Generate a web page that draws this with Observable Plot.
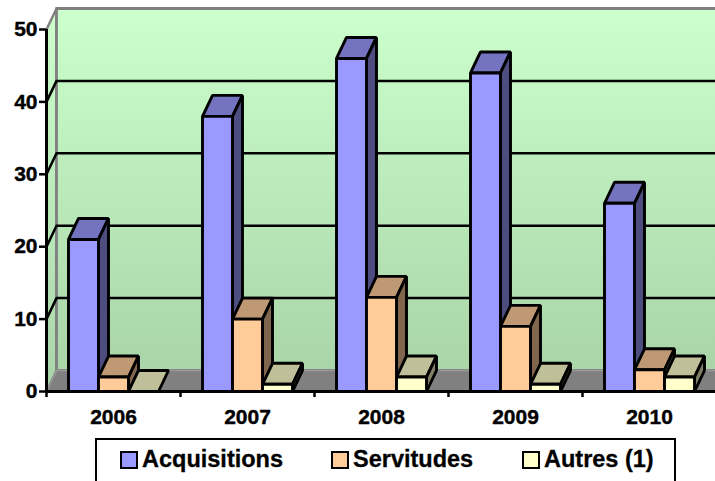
<!DOCTYPE html>
<html><head><meta charset="utf-8">
<script src="https://cdn.jsdelivr.net/npm/d3@7"></script>
<script src="https://cdn.jsdelivr.net/npm/@observablehq/plot@0.6"></script>
<style>
html,body{margin:0;padding:0;background:#fff;overflow:hidden;width:715px;height:481px}
#chart svg{display:block;background:#fff}
#legend{position:absolute;left:95px;top:438px;width:577px;height:60px;border:2.5px solid #000;box-sizing:content-box;font:bold 23.5px "Liberation Sans",Arial,sans-serif;color:#000;background:#fff;-webkit-text-stroke:0.3px #000}
#legend .sw{position:absolute;top:10.5px;width:14px;height:14px;border:2.5px solid #000;-webkit-text-stroke:0}
#legend .lb{position:absolute;top:6px;line-height:26px;white-space:nowrap}
</style></head>
<body><div id="chart"></div><div id="legend"></div>
<script>
const years = ["2006","2007","2008","2009","2010"];
const seriesNames = ["Acquisitions","Servitudes","Autres (1)"];
const acquisitions = [21,38,46,44,26];
const servitudes = [2,10,13,9,3];
const autres = [0,1,2,1,2];
const yTicks = [0,10,20,30,40,50];
const frontColors = ["#9999ff","#ffcc99","#ffffcc"];
const topColors = ["#7373bf","#bf9973","#bfbf99"];
const sideColors = ["#4d4d80","#80664d","#808066"];

const values = [acquisitions, servitudes, autres];
// Depth of the 3D box, in data units
const depthX = 10/134, depthY = 21/7.24;
const barStart = 22/134, barWidth = 30/134;

const faces = [];
function face(id, color, pts){ pts.forEach(([x,y]) => faces.push({id,color,x,y})); }
years.forEach((yr,i) => {
  values.forEach((vals,s) => {
    const v = vals[i], x0 = i + barStart + s*barWidth, x1 = x0 + barWidth;
    face(`t${i}${s}`, topColors[s], [[x0,v],[x1,v],[x1+depthX,v+depthY],[x0+depthX,v+depthY]]);
    if (v > 0) {
      face(`s${i}${s}`, sideColors[s], [[x1,0],[x1+depthX,depthY],[x1+depthX,v+depthY],[x1,v]]);
      face(`f${i}${s}`, frontColors[s], [[x0,0],[x1,0],[x1,v],[x0,v]]);
    }
  });
});

const poly = (pts, opts) => Plot.line(pts, {x:d=>d[0], y:d=>d[1], curve:"linear-closed", ...opts});
const gridLines = yTicks.slice(1,-1).map(t => [[0,t],[depthX,t+depthY],[5+depthX,t+depthY]]);
const textStyle = {fontSize:21, fontWeight:"bold", fontFamily:"Liberation Sans", fill:"#000"};

const plot = Plot.plot({
  width:715, height:437,
  marginLeft:46, marginRight:0, marginTop:0, marginBottom:0,
  x:{type:"linear", domain:[0,5], range:[46,716], axis:null},
  y:{type:"linear", domain:[0,50], range:[391,29], axis:null},
  marks:[
    () => {
      const defs = d3.create("svg:defs");
      const g = defs.append("linearGradient").attr("id","wall").attr("x1",0).attr("y1",0).attr("x2",0).attr("y2",1);
      g.append("stop").attr("offset","0%").attr("stop-color","#ccffcc");
      g.append("stop").attr("offset","100%").attr("stop-color","#a9d5a9");
      return defs.node();
    },
    poly([[0,0],[depthX,depthY],[depthX,50+depthY],[0,50]], {fill:"url(#wall)", stroke:"#808080", strokeWidth:2.4}),
    poly([[depthX,depthY],[5+depthX,depthY],[5+depthX,50+depthY],[depthX,50+depthY]], {fill:"url(#wall)", stroke:"#808080", strokeWidth:2.8}),
    poly([[0,0],[5,0],[5+depthX,depthY],[depthX,depthY]], {fill:"#808080", stroke:"#999999", strokeWidth:1.5}),
    ...gridLines.map(l => Plot.line(l, {x:d=>d[0], y:d=>d[1], stroke:"#000", strokeWidth:2.5})),
    Plot.line(faces, {x:"x", y:"y", z:"id", fill:"color", stroke:"#000", strokeWidth:2.9, strokeLinejoin:"miter", curve:"linear-closed"}),
    Plot.ruleX([0], {y1:0, y2:50, stroke:"#000", strokeWidth:3}),
    Plot.ruleY([0], {x1:0, x2:5, stroke:"#000", strokeWidth:3}),
    Plot.axisY({ticks:yTicks, tickSize:7, tickPadding:2, stroke:"#000", strokeWidth:2.5, ...textStyle, label:null, tickFormat:d=>String(d)}),
    Plot.axisX({anchor:"bottom", ticks:d3.range(0,6), tickSize:6, tickFormat:()=>"", stroke:"#000", strokeWidth:2.5, label:null, y:0}),
    Plot.text(years, {x:(d,i)=>i+0.5, y:()=>0, text:d=>d, dy:26, ...textStyle})
  ]
});
document.getElementById("chart").append(plot);
plot.querySelectorAll("text").forEach(t => { t.style.stroke = "#000"; t.style.strokeWidth = "0.4px"; });

const legend = d3.select("#legend");
const swLeft = [22.5,233.5,424.5], lbLeft = [45,256,447];
seriesNames.forEach((n,i) => {
  legend.append("div").attr("class","sw").style("left",swLeft[i]+"px").style("background",frontColors[i]);
  legend.append("div").attr("class","lb").style("left",lbLeft[i]+"px").text(n);
});
</script></body></html>
